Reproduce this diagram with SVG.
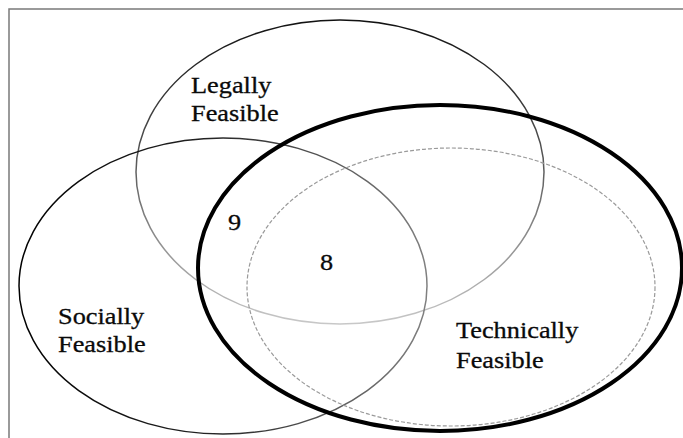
<svg xmlns="http://www.w3.org/2000/svg" width="683" height="438" viewBox="0 0 683 438">
  <style>
    .lbl { font-family: "Liberation Serif", "Times New Roman", serif; font-size: 23.5px; fill: #0a0a0a; stroke: #0a0a0a; stroke-width: 0.3px; }
    .ell { fill: none; }
  </style>
  <defs>
    <linearGradient id="gLegal" x1="0" y1="0" x2="0" y2="1">
      <stop offset="0" stop-color="#111"/>
      <stop offset="0.45" stop-color="#555"/>
      <stop offset="1" stop-color="#c8c8c8"/>
    </linearGradient>
    <linearGradient id="gSocial" x1="0" y1="0" x2="1" y2="0">
      <stop offset="0" stop-color="#000"/>
      <stop offset="0.45" stop-color="#222"/>
      <stop offset="1" stop-color="#808080"/>
    </linearGradient>
  </defs>
  <rect x="0" y="0" width="683" height="438" fill="#fff"/>
  <rect x="9" y="9" width="690" height="450" fill="none" stroke="#7a7a7a" stroke-width="1.5"/>

  <g id="legally">
    <ellipse class="ell" cx="340" cy="172" rx="204" ry="152" stroke="url(#gLegal)" stroke-width="1.5"/>
    <text class="lbl" transform="translate(191 93) scale(1.12 1)">Legally</text>
    <text class="lbl" transform="translate(191 121) scale(1.12 1)">Feasible</text>
  </g>

  <g id="socially">
    <ellipse class="ell" cx="223" cy="286" rx="204" ry="148" stroke="url(#gSocial)" stroke-width="1.5"/>
    <text class="lbl" transform="translate(58 324) scale(1.12 1)">Socially</text>
    <text class="lbl" transform="translate(58 352) scale(1.12 1)">Feasible</text>
  </g>

  <g id="dashed">
    <ellipse class="ell" cx="451" cy="287" rx="204" ry="139" stroke="#9a9a9a" stroke-width="1.2" stroke-dasharray="4 2"/>
  </g>

  <g id="technically">
    <ellipse class="ell" cx="440" cy="268" rx="242" ry="163" stroke="#000" stroke-width="4"/>
    <text class="lbl" transform="translate(456 338) scale(1.12 1)">Technically</text>
    <text class="lbl" transform="translate(456 368) scale(1.12 1)">Feasible</text>
  </g>

  <g id="numbers">
    <text class="lbl" transform="translate(228 230) scale(1.12 1)">9</text>
    <text class="lbl" transform="translate(320 270) scale(1.12 1)">8</text>
  </g>

  <g id="connectors"></g>
</svg>
